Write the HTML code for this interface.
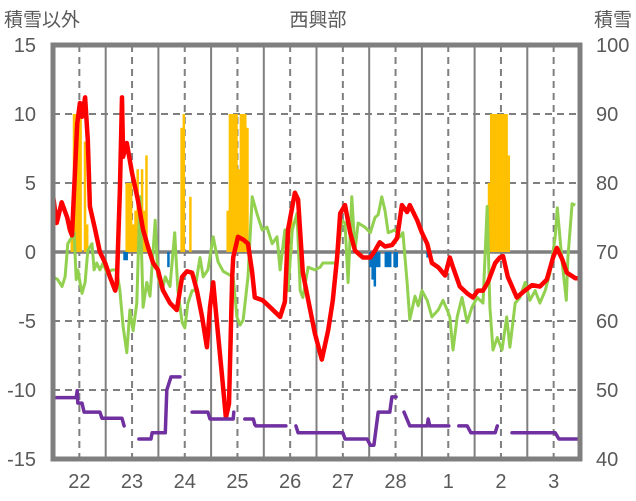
<!DOCTYPE html>
<html><head><meta charset="utf-8"><style>
html,body{margin:0;padding:0;background:#fff;width:636px;height:501px;overflow:hidden}
svg{display:block}
text{font-family:"Liberation Sans","Noto Sans CJK JP",sans-serif;fill:#595959}
</style></head><body>
<svg id="chart" width="636" height="501" xmlns="http://www.w3.org/2000/svg">
<text x="4" y="26" font-size="19">積雪以外</text>
<text x="318" y="26" font-size="19" text-anchor="middle">西興部</text>
<text x="632" y="26" font-size="19" text-anchor="end">積雪</text>
<g id="grid"></g>
<g id="bars"></g>
<g id="lines"></g>
<g id="axes"></g>
</svg>
<script>
const dayLabels=["22","23","24","25","26","27","28","1","2","3"];
const leftTicks=[15,10,5,0,-5,-10,-15];
const rightTicks=[100,90,80,70,60,50,40];
const redT=[0,0.07,0.165,0.27,0.32,0.36,0.46,0.51,0.55,0.61,0.66,0.70,0.80,0.89,0.99,1.08,1.18,1.21,1.27,1.31,1.33,1.40,1.50,1.61,1.71,1.80,1.90,1.99,2.09,2.22,2.35,2.45,2.54,2.64,2.73,2.83,2.92,2.98,3.04,3.11,3.21,3.28,3.34,3.40,3.42,3.51,3.61,3.70,3.78,3.83,3.98,4.12,4.31,4.40,4.46,4.59,4.65,4.74,4.88,4.97,5.10,5.22,5.31,5.39,5.45,5.54,5.64,5.73,5.88,6.02,6.11,6.20,6.30,6.43,6.53,6.62,6.72,6.77,6.91,7.00,7.10,7.19,7.31,7.44,7.53,7.59,7.72,7.86,7.97,8.06,8.16,8.25,8.39,8.48,8.54,8.63,8.80,8.92,9.09,9.24,9.37,9.49,9.56,9.66,9.75,9.91,10];
const redV=[4.1,2.1,3.6,2.5,1.6,1.2,9.3,10.8,9.8,11.2,8.1,3.3,1.6,0,-0.8,-1.8,-2.8,-2.3,4.5,11.2,6.9,7.9,5.7,3.8,1.6,0.4,-0.8,-1.3,-2.8,-3.7,-4.2,-1.8,-1.4,-1.5,-2.8,-4.7,-6.9,-4,-2.2,-5.1,-9.1,-12,-11,-1.8,-0.4,1.1,0.9,0.6,-1.5,-3.3,-3.5,-4,-4.7,-3.6,1.6,4.3,3.8,-1.5,-4.2,-5.9,-7.8,-5.7,-3.5,-0.4,2.8,3.4,1.4,0.1,-0.4,-0.4,0.1,0.7,0.4,0.5,1,3.4,2.9,3.4,2.3,1.4,0.6,-0.8,-1.1,-1.7,-0.4,-1.1,-2.5,-3,-3.3,-2.8,-2.8,-2.2,-0.8,-0.4,-0.3,-1.8,-3.3,-2.9,-2.4,-2.5,-2,-0.4,0.3,-0.5,-1.5,-1.9,-1.9];
const greenT=[0,0.09,0.17,0.23,0.28,0.36,0.40,0.44,0.47,0.55,0.61,0.66,0.74,0.78,0.83,0.89,0.95,1.02,1.12,1.21,1.27,1.33,1.40,1.46,1.52,1.59,1.65,1.71,1.78,1.84,1.94,1.99,2.07,2.13,2.22,2.31,2.37,2.45,2.50,2.56,2.64,2.69,2.79,2.85,2.94,3.04,3.13,3.23,3.32,3.42,3.49,3.55,3.61,3.70,3.78,3.87,3.97,4.06,4.16,4.25,4.31,4.40,4.46,4.54,4.63,4.69,4.74,4.84,4.97,5.07,5.12,5.26,5.39,5.48,5.54,5.60,5.67,5.73,5.79,5.92,6.02,6.11,6.17,6.24,6.30,6.36,6.49,6.58,6.64,6.72,6.77,6.87,6.93,7.00,7.10,7.19,7.31,7.40,7.48,7.53,7.59,7.67,7.76,7.86,7.95,8.05,8.16,8.24,8.29,8.35,8.43,8.52,8.61,8.67,8.77,8.86,8.96,9.05,9.15,9.24,9.34,9.43,9.53,9.57,9.66,9.74,9.77,9.85,9.91];
const greenV=[-1.8,-2,-2.5,-1.8,0.6,1.1,1.4,-2,-1.3,-3,-2.2,0.1,0.6,-1.3,-0.8,-1.3,-0.8,-1.5,-1.3,-1.3,-2.8,-5.4,-7.3,-4.2,-5.7,-3.7,4,-4,-2.2,-3.2,2.3,-1.8,-2.8,-1.8,-2.5,1.4,-2.8,-5.1,-5.5,-3.7,-2.8,-2.8,-0.4,-1.8,-1.3,1.1,-0.7,-1.4,-1.6,-1.8,-4.7,-5.3,-4.9,-1.8,4,2.8,1.6,1.8,0.6,1.1,-1.3,1.6,-2.8,1.6,2.8,-2.8,-3.3,-1.1,-1.3,-1.1,-0.8,-0.8,-0.8,2.3,2.1,-2.2,4,0.1,2.1,1.8,1.4,2.5,2.7,4,3,1.4,1.6,1.1,1.4,-2.2,-4.9,-3.2,-3.9,-2.8,-3.5,-4.7,-4.2,-3.5,-4.2,-4.7,-7.1,-4.7,-3.3,-5.1,-4,-3.3,-3.7,3.3,-4,-7.1,-6.2,-7.1,-4.7,-6.9,-3.7,-3.3,-2.2,-3.5,-2.8,-3.7,-2.8,-1.5,1.1,3.2,-0.7,-3.5,-0.4,3.5,3.4];
const snowHour=[8,9,10,11,12,14,15,33,34,35,36,37,38,40,41,42,58,59,62,79,80,81,82,83,84,85,86,87,88,108,198,199,200,201,202,203,204,205,206,207,32,33,52,54,144,145,146,147,148,151,152,153,155,156,170];
const snowV=[1,10,10,10,10,8,2,5,5,5,2,3,6,6,3,7,9,10,4,3,10,10,10,10,6,10,10,10,9,3,5,10,10,10,10,10,10,10,10,7,-0.6,-0.6,-1.1,-0.4,-1.1,-2,-2.5,-1.1,-1.1,-1.1,-1.1,-1.1,-1.1,-1.1,-0.4];
const depthT=[0.02,0.44,0.46,0.47,0.55,0.59,0.89,0.93,1.31,1.35,null,1.63,1.86,1.88,2.13,2.16,2.24,2.41,null,2.64,2.94,2.98,3.42,3.43,null,3.64,3.80,3.83,3.85,3.91,4.42,null,4.61,4.65,5.50,5.54,5.96,6.02,6.09,6.17,6.39,6.43,6.51,null,6.66,6.77,7.10,7.12,7.15,7.51,null,7.70,7.86,7.93,8.39,8.43,null,8.71,9.53,9.60,10];
const depthV=[48.9,48.9,49.9,48.1,48.1,46.8,46.8,45.9,45.9,44.8,null,42.9,42.9,43.8,43.8,50,51.9,51.9,null,46.8,46.8,45.8,45.8,46.8,null,45.8,45.8,45,44.8,44.8,44.8,null,44.8,43.8,43.8,42.9,42.9,42,42,46.8,46.8,49,49,null,46.8,44.8,44.8,45.8,44.8,44.8,null,44.8,44.8,43.8,43.8,44.8,null,43.8,43.8,42.9,42.9];

const L=53,R=580,T=45,B=459,NS="http://www.w3.org/2000/svg";
const xS=t=>L+(R-L)*t/10;
const yL=v=>T+(15-v)*(B-T)/30;
const yR=v=>B-(v-40)*(B-T)/60;
function mk(tag,attrs,parent){const e=document.createElementNS(NS,tag);for(const k in attrs)e.setAttribute(k,attrs[k]);parent.appendChild(e);return e;}
const grid=document.getElementById('grid'),bars=document.getElementById('bars'),lines=document.getElementById('lines'),axes=document.getElementById('axes');
for(const v of [10,5,-5,-10]){
  const g=mk('line',{x1:L,x2:R,y1:yL(v),y2:yL(v),stroke:'#7f7f7f','stroke-width':2,'stroke-dasharray':'7,5'},grid);
  
  
}
for(let d=0;d<10;d++){
  const dl=mk('line',{x1:xS(d+0.5),x2:xS(d+0.5),y1:T,y2:B,stroke:'#7f7f7f','stroke-width':2,'stroke-dasharray':'7,5'},grid);
  
  
  if(d>0){const sl=mk('line',{x1:xS(d),x2:xS(d),y1:T,y2:B,stroke:'#7f7f7f','stroke-width':2},grid);
  
  }
}
const bw=(R-L)/240;
snowHour.forEach((h,i)=>{
  const v=snowV[i],x=xS(h/24),y0=yL(0),y1=yL(v);
  const r=mk('rect',{x:x,y:Math.min(y0,y1),width:bw+0.3,height:Math.abs(y1-y0),fill:v>=0?'#FFC000':'#0070C0'},bars);
  
  
});
const z=mk('line',{x1:L,x2:R,y1:yL(0),y2:yL(0),stroke:'#7f7f7f','stroke-width':3.5},grid);


function path(ts,vs,yf){let d='',pen=false;ts.forEach((t,i)=>{if(t===null){pen=false;return;}d+=(pen?'L':'M')+xS(t).toFixed(1)+','+yf(vs[i]).toFixed(1);pen=true;});return d;}
const gp=mk('path',{d:path(greenT,greenV,yL),fill:'none',stroke:'#92D050','stroke-width':3,'stroke-linejoin':'round'},lines);


const rp=mk('path',{d:path(redT,redV,yL),fill:'none',stroke:'#FF0000','stroke-width':4.5,'stroke-linejoin':'round'},lines);


const pp=mk('path',{d:path(depthT,depthV,yR),fill:'none',stroke:'#7030A0','stroke-width':3.5,'stroke-linejoin':'round','stroke-linecap':'round'},lines);


const fr=mk('rect',{x:L,y:T,width:R-L,height:B-T,fill:'none',stroke:'#7f7f7f','stroke-width':5},axes);


leftTicks.forEach(v=>{const t=mk('text',{x:36,y:yL(v)+7,'font-size':20,'text-anchor':'end'},axes);t.textContent=v;

});
rightTicks.forEach((v,i)=>{const t=mk('text',{x:596,y:yR(v)+7,'font-size':20},axes);t.textContent=v;

});
dayLabels.forEach((s,i)=>{const t=mk('text',{x:xS(i+0.5),y:488,'font-size':20,'text-anchor':'middle'},axes);t.textContent=s;

});
</script>
</body></html>
